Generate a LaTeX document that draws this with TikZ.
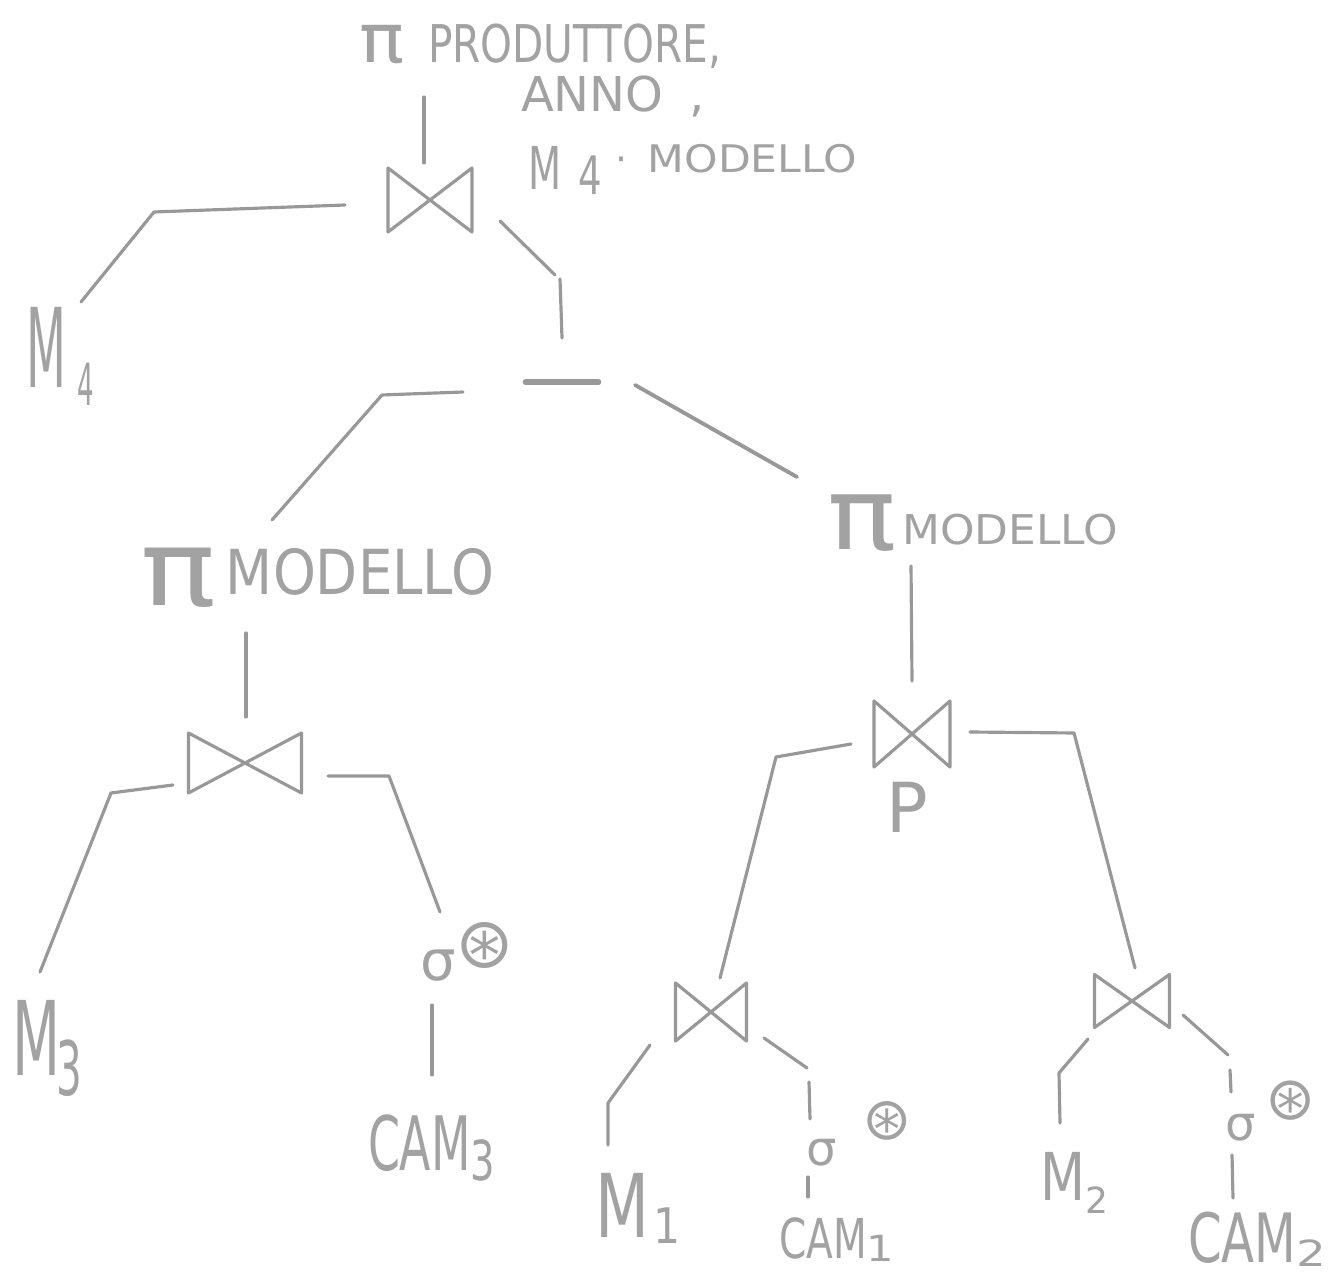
\documentclass[tikz,border=0pt]{standalone}
\usepackage{fontspec}
\setmainfont{DejaVu Sans}
\usepackage{graphicx}
\usetikzlibrary{calc}
\definecolor{pen}{RGB}{152,152,152}
\definecolor{ink}{RGB}{162,162,162}
\newdimen\px \px=0.28453pt
\newcommand{\fs}[1]{\fontsize{#1\px}{#1\px}\selectfont}
\newcommand{\sx}[2]{\scalebox{#1}[1]{#2}}
\tikzset{
  conn/.style={draw=pen, line width=0.9pt, line cap=round, line join=round},
  lbl/.style={inner sep=0pt, outer sep=0pt, text=ink, anchor=base west},
  joinop/.style={inner sep=0pt, outer sep=0pt, draw=none, rectangle},
}
\begin{document}
\begin{tikzpicture}[x=0.01cm, y=-0.01cm]
\useasboundingbox (0,0) rectangle (1343,1277);

% labels
\node[lbl] (p1) at (359,63) {\sx{1.1}{\fs{68}π}\hspace{24\px}\sx{0.78}{\fs{52}PRODUTTORE,}};
\node[lbl] (p2) at (521,112) {\fs{48}ANNO\hspace{26\px},};
\node[lbl] (p3) at (528,190) {\sx{0.65}{\fs{59}M}\hspace{17\px}\raisebox{-5\px}{\sx{0.7}{\fs{53}4}}\hspace{14\px}\raisebox{17\px}{\fs{38}·\hspace{20\px}\sx{1.12}{MODELLO}}};
\node[lbl] (m4) at (26,388) {\sx{0.42}{\fs{110}M}\hspace{12\px}\raisebox{-17\px}{\sx{0.45}{\fs{58}4}}};
\node[lbl] (pl) at (140,595) {\raisebox{-10\px}{\sx{1.2}{\fs{105}π}}\hspace{10\px}\sx{0.88}{\fs{62}MODELLO}};
\node[lbl] (pr) at (827,545) {\raisebox{-5\px}{\sx{1.15}{\fs{100}π}}\hspace{6\px}\sx{1.07}{\fs{41}MODELLO}};
\node[lbl] (m3) at (12,1075) {\sx{0.54}{\fs{103}M}\hspace{-4\px}\raisebox{-20\px}{\sx{0.54}{\fs{75}3}}};
\node[lbl] (s3) at (420,980) {\fs{56}σ\hspace{0\px}\raisebox{12\px}{\fs{70}⊛}};
\node[lbl] (c3) at (368,1170) {\sx{0.61}{\fs{75}CAM}\raisebox{-10\px}{\sx{0.7}{\fs{55}3}}};
\node[lbl] (pj) at (886,833) {\fs{69}P};
\node[lbl] (m1) at (595,1237) {\sx{0.71}{\fs{88}M}\hspace{5\px}\raisebox{-6\px}{\sx{0.87}{\fs{49}1}}};
\node[lbl] (s1) at (806,1165) {\fs{48}σ\hspace{26\px}\raisebox{25\px}{\fs{59}⊛}};
\node[lbl] (c1) at (779,1258) {\sx{0.71}{\fs{55}CAM}\raisebox{-3\px}{\sx{1.2}{\fs{36}1}}};
\node[lbl] (m2) at (1040,1200) {\sx{0.79}{\fs{66}M}\raisebox{-13\px}{\fs{36}2}};
\node[lbl] (s2) at (1225,1140) {\fs{48}σ\hspace{10\px}\raisebox{20\px}{\fs{60}⊛}};
\node[lbl] (c2) at (1188,1262) {\sx{0.71}{\fs{68}CAM}\raisebox{-4\px}{\sx{1.3}{\fs{36}2}}};

% operators
\node[joinop, minimum width=0.84cm, minimum height=0.64cm] (j0) at (430,200) {};
\node[joinop, minimum width=1.13cm, minimum height=0.60cm] (j1) at (245,763) {};
\node[joinop, minimum width=0.76cm, minimum height=0.66cm] (j2) at (912,734) {};
\node[joinop, minimum width=0.71cm, minimum height=0.58cm] (j3) at (711,1012) {};
\node[joinop, minimum width=0.75cm, minimum height=0.53cm] (j4) at (1132,1001) {};
\node[joinop, minimum width=0.73cm, minimum height=0.06cm] (diff) at (562,382) {};

\foreach \n in {j0,j1,j2,j3,j4} {
  \draw[conn] (\n.north west) -- (\n.south east) -- (\n.north east) -- (\n.south west) -- cycle;
}
\draw[conn, line width=1.6pt] (diff.west) -- (diff.east);

% connectors
\draw[conn] ($(p1.base west)+(65,34)$) -- ($(j0.center)+(-6,-37)$);
\draw[conn] ($(j0.center)+(-85,5)$) -- (154,212) -- ($(m4.base west)+(55,-86)$);
\draw[conn] ($(j0.center)+(70,21)$) -- (555,275) (560,279) -- ($(diff.center)+(0,-44)$);
\draw[conn] ($(diff.center)+(-99,10)$) -- (382,395) -- ($(pl.base west)+(132,-75)$);
\draw[conn, line width=1.1pt] ($(diff.center)+(73,3)$) -- ($(pr.base west)+(-30,-68)$);
\draw[conn] ($(pl.base west)+(106,38)$) -- ($(j1.center)+(1,-46)$);
\draw[conn] ($(pr.base west)+(84,21)$) -- ($(j2.center)+(0,-53)$);
\draw[conn] ($(j1.center)+(-72,22)$) -- (111,793) -- ($(m3.base west)+(28,-103)$);
\draw[conn] ($(j1.center)+(83,13)$) -- (389,776) -- ($(s3.base west)+(20,-68)$);
\draw[conn] ($(s3.base west)+(12,25)$) -- ($(c3.base west)+(64,-95)$);
\draw[conn] ($(j2.center)+(-61,10)$) -- (776,757) -- ($(j3.center)+(9,-34)$);
\draw[conn] ($(j2.center)+(58,-2)$) -- (1074,733) -- ($(j4.center)+(3,-33)$);
\draw[conn] ($(j3.center)+(-61,33)$) -- (608,1103) -- ($(m1.base west)+(13,-92)$);
\draw[conn] ($(j3.center)+(53,26)$) -- (807,1068) (809,1082) -- ($(s1.base west)+(4,-46)$);
\draw[conn] ($(s1.base west)+(2,12)$) -- ($(c1.base west)+(29,-61)$);
\draw[conn] ($(j4.center)+(-44,38)$) -- (1059,1073) -- ($(m2.base west)+(20,-77)$);
\draw[conn] ($(j4.center)+(51,14)$) -- (1228,1055) (1230,1070) -- ($(s2.base west)+(6,-48)$);
\draw[conn] ($(s2.base west)+(7,15)$) -- ($(c2.base west)+(45,-64)$);
\end{tikzpicture}
\end{document}
